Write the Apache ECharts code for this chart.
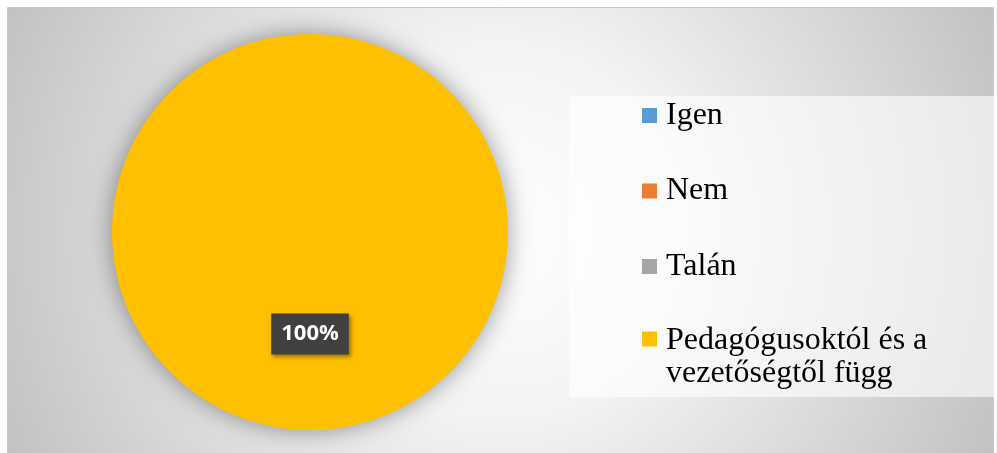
<!DOCTYPE html>
<html>
<head>
<meta charset="utf-8">
<script src="https://cdn.jsdelivr.net/npm/echarts@6/dist/echarts.min.js"></script>
<style>
  html, body { margin: 0; padding: 0; background: #fff; }
  #container { width: 997px; height: 453px; }
</style>
</head>
<body>
<div id="container"></div>
<script>
var categories = ["Igen", "Nem", "Talán", "Pedagógusoktól és a\nvezetőségtől függ"];
var values = [0, 0, 0, 100];
var colors = ["#5B9BD5", "#ED7D31", "#A5A5A5", "#FFC000"];

var myChart = echarts.init(document.getElementById("container"));

var pieData = categories.map(function (name, i) {
    return {
        name: name,
        value: values[i],
        itemStyle: { color: colors[i] },
        // zero slices get no label
        label: { show: values[i] > 0 }
    };
});

var legendText = {
    fontFamily: "Liberation Serif",
    fontSize: 32,
    lineHeight: 37,
    color: "#000"
};

myChart.setOption({
    animation: false,
    backgroundColor: "#fff",
    graphic: [
        {
            type: "rect",
            z: -10,
            shape: { x: 7.5, y: 7.5, width: 986, height: 450 },
            style: {
                fill: {
                    type: "radial",
                    x: 500, y: 230, r: 540,
                    global: true,
                    colorStops: [
                        { offset: 0, color: "#ffffff" },
                        { offset: 0.35, color: "#f3f3f3" },
                        { offset: 1, color: "#c2c2c2" }
                    ]
                },
                stroke: "#c9c9c9",
                lineWidth: 1
            }
        },
        {
            // legend panel
            type: "rect",
            z: -5,
            shape: { x: 569, y: 96, width: 425, height: 301 },
            style: { fill: "rgba(255,255,255,0.62)" }
        }
    ],
    legend: [
        {
            orient: "vertical",
            left: 642,
            top: 97,
            padding: 0,
            itemWidth: 15,
            itemHeight: 15,
            itemGap: 38.5,
            icon: "rect",
            selectedMode: false,
            data: categories.slice(0, 3),
            textStyle: Object.assign({ padding: [0, 0, 0, 4] }, legendText)
        },
        {
            orient: "vertical",
            left: 642,
            top: 290,
            padding: 0,
            itemWidth: 15,
            itemHeight: 15,
            icon: "rect",
            selectedMode: false,
            data: categories.slice(3),
            // empty first line keeps the icon level with the first text line
            formatter: function (name) {
                return "{pad| }\n" + name.split("\n").map(function (s) {
                    return "{t|" + s + "}";
                }).join("\n");
            },
            textStyle: {
                rich: {
                    pad: { fontSize: 32, lineHeight: 37, fontFamily: "Liberation Serif" },
                    t: { fontSize: 32, lineHeight: 33, fontFamily: "Liberation Serif", color: "#000", padding: [0, 0, 0, 4] }
                }
            }
        }
    ],
    series: [
        {
            type: "pie",
            center: [310, 232],
            radius: 198,
            startAngle: 90,
            clockwise: true,
            data: pieData,
            itemStyle: {
                borderWidth: 0,
                shadowBlur: 24,
                shadowColor: "rgba(0,0,0,0.4)"
            },
            label: {
                position: "inside",
                formatter: "{d}%",
                fontFamily: "Open Sans",
                fontWeight: "bold",
                fontSize: 22,
                lineHeight: 23,
                color: "#fff",
                backgroundColor: "#404040",
                padding: [9, 10],
                shadowBlur: 4,
                shadowOffsetX: 2,
                shadowOffsetY: 2,
                shadowColor: "rgba(0,0,0,0.4)"
            },
            labelLine: { show: false },
            emphasis: { disabled: true }
        }
    ]
});
</script>
</body>
</html>
